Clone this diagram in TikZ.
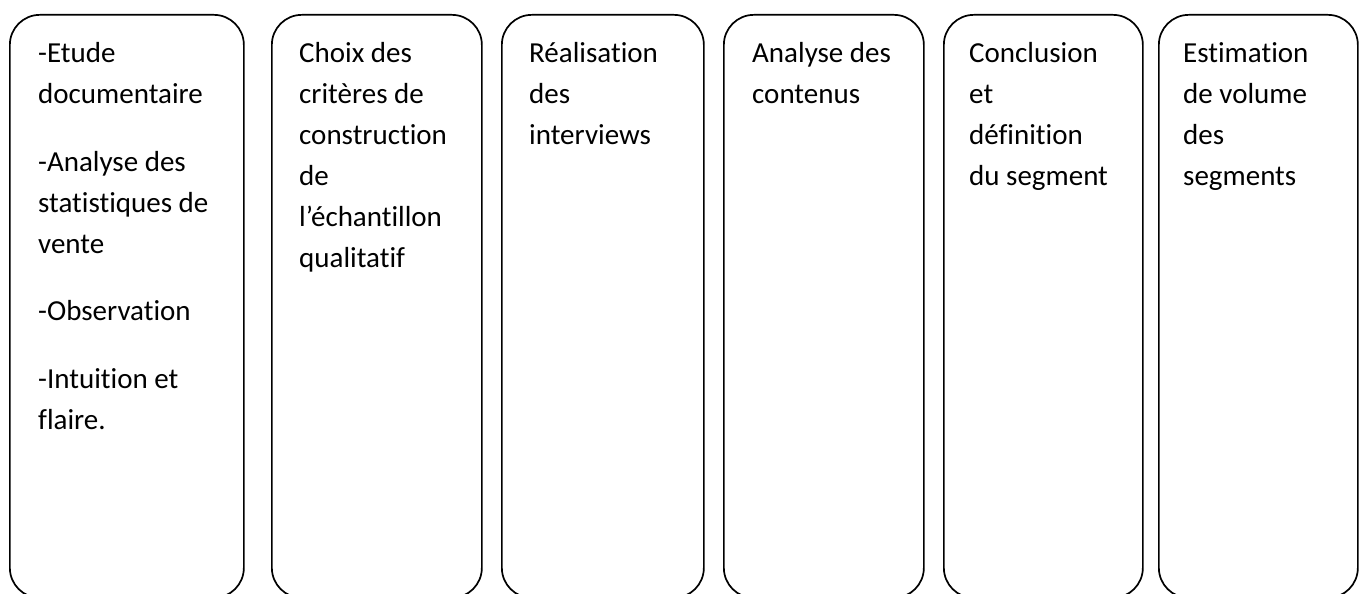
\documentclass[tikz,border=0pt]{standalone}
\usepackage{fontspec}
\setmainfont{Carlito}[RawFeature={-liga}]
\newcommand\stagetext[1]{\parbox[t]{220pt}{\fontsize{29}{41}\selectfont\raggedright\parindent=0pt\parskip=26.5pt #1}}
\begin{document}
\begin{tikzpicture}[x=1pt,y=-1pt,
  stage/.style={draw=black, line width=1.7pt, rounded corners=30pt, inner sep=0pt,
                minimum height=583pt, anchor=north west},
  stagelabel/.style={anchor=base west, inner sep=0pt}]
\useasboundingbox (0,0) rectangle (1363,594);
\clip (0,0) rectangle (1363,594);
\node[stage, minimum width=234pt] (b1) at (9,14) {};
\node[stage, minimum width=210pt] (b2) at (271,14) {};
\node[stage, minimum width=202pt] (b3) at (501,14) {};
\node[stage, minimum width=200pt] (b4) at (723,14) {};
\node[stage, minimum width=199pt] (b5) at (943,14) {};
\node[stage, minimum width=199pt] (b6) at (1158,14) {};
\node[stagelabel] (t1) at (38,63) {\stagetext{-Etude\\documentaire\par -Analyse des\\statistiques de\\vente\par -Observation\par -Intuition et\\flaire.}};
\node[stagelabel] (t2) at (299,63) {\stagetext{Choix des\\critères de\\construction\\de\\l’échantillon\\qualitatif}};
\node[stagelabel] (t3) at (529,63) {\stagetext{Réalisation\\des\\interviews}};
\node[stagelabel] (t4) at (752,63) {\stagetext{Analyse des\\contenus}};
\node[stagelabel] (t5) at (969,63) {\stagetext{Conclusion\\et\\définition\\du segment}};
\node[stagelabel] (t6) at (1183,63) {\stagetext{Estimation\\de volume\\des\\segments}};
\end{tikzpicture}
\end{document}
